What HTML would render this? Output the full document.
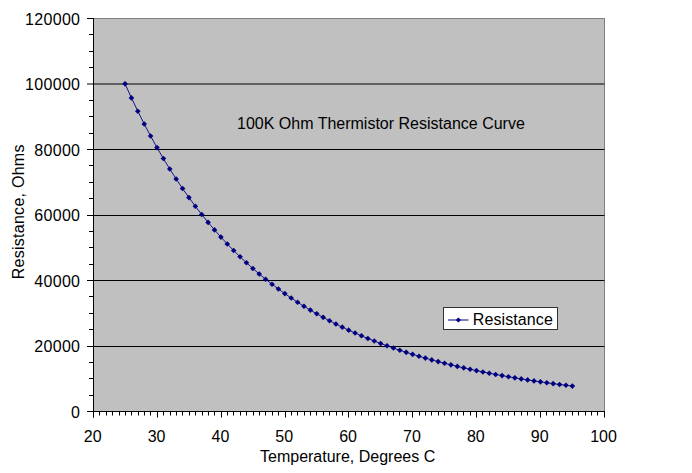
<!DOCTYPE html>
<html><head><meta charset="utf-8">
<style>
html,body{margin:0;padding:0;background:#fff;}
body{width:692px;height:473px;overflow:hidden;}
svg{display:block;font-family:"Liberation Sans", sans-serif;}
</style></head><body>
<svg width="692" height="473" viewBox="0 0 692 473">
<rect x="0" y="0" width="692" height="473" fill="#fff"/>
<rect x="93.5" y="18.5" width="511" height="393" fill="#c0c0c0" stroke="#808080" stroke-width="1"/>
<g stroke="#000" stroke-width="1"><line x1="93.5" y1="84.00" x2="604.5" y2="84.00"/><line x1="93.5" y1="149.50" x2="604.5" y2="149.50"/><line x1="93.5" y1="215.50" x2="604.5" y2="215.50"/><line x1="93.5" y1="280.50" x2="604.5" y2="280.50"/><line x1="93.5" y1="346.50" x2="604.5" y2="346.50"/></g>
<g stroke="#000" stroke-width="1">
<line x1="93.5" y1="18" x2="93.5" y2="417.5"/>
<line x1="87" y1="411.5" x2="605" y2="411.5"/>
<line x1="87" y1="411.50" x2="93.5" y2="411.50"/><line x1="89" y1="395.50" x2="93.5" y2="395.50"/><line x1="89" y1="378.50" x2="93.5" y2="378.50"/><line x1="89" y1="362.50" x2="93.5" y2="362.50"/><line x1="87" y1="346.50" x2="93.5" y2="346.50"/><line x1="89" y1="329.50" x2="93.5" y2="329.50"/><line x1="89" y1="313.50" x2="93.5" y2="313.50"/><line x1="89" y1="296.50" x2="93.5" y2="296.50"/><line x1="87" y1="280.50" x2="93.5" y2="280.50"/><line x1="89" y1="264.50" x2="93.5" y2="264.50"/><line x1="89" y1="247.50" x2="93.5" y2="247.50"/><line x1="89" y1="231.50" x2="93.5" y2="231.50"/><line x1="87" y1="215.50" x2="93.5" y2="215.50"/><line x1="89" y1="198.50" x2="93.5" y2="198.50"/><line x1="89" y1="182.50" x2="93.5" y2="182.50"/><line x1="89" y1="165.50" x2="93.5" y2="165.50"/><line x1="87" y1="149.50" x2="93.5" y2="149.50"/><line x1="89" y1="133.50" x2="93.5" y2="133.50"/><line x1="89" y1="116.50" x2="93.5" y2="116.50"/><line x1="89" y1="100.50" x2="93.5" y2="100.50"/><line x1="87" y1="84.00" x2="93.5" y2="84.00"/><line x1="89" y1="67.50" x2="93.5" y2="67.50"/><line x1="89" y1="51.50" x2="93.5" y2="51.50"/><line x1="89" y1="34.50" x2="93.5" y2="34.50"/><line x1="87" y1="18.50" x2="93.5" y2="18.50"/><line x1="93.50" y1="411.5" x2="93.50" y2="417.50"/><line x1="99.50" y1="411.5" x2="99.50" y2="415.50"/><line x1="106.50" y1="411.5" x2="106.50" y2="415.50"/><line x1="112.50" y1="411.5" x2="112.50" y2="415.50"/><line x1="119.50" y1="411.5" x2="119.50" y2="415.50"/><line x1="125.50" y1="411.5" x2="125.50" y2="415.50"/><line x1="131.50" y1="411.5" x2="131.50" y2="415.50"/><line x1="138.50" y1="411.5" x2="138.50" y2="415.50"/><line x1="144.50" y1="411.5" x2="144.50" y2="415.50"/><line x1="150.50" y1="411.5" x2="150.50" y2="415.50"/><line x1="157.50" y1="411.5" x2="157.50" y2="417.50"/><line x1="163.50" y1="411.5" x2="163.50" y2="415.50"/><line x1="170.50" y1="411.5" x2="170.50" y2="415.50"/><line x1="176.50" y1="411.5" x2="176.50" y2="415.50"/><line x1="182.50" y1="411.5" x2="182.50" y2="415.50"/><line x1="189.50" y1="411.5" x2="189.50" y2="415.50"/><line x1="195.50" y1="411.5" x2="195.50" y2="415.50"/><line x1="202.50" y1="411.5" x2="202.50" y2="415.50"/><line x1="208.50" y1="411.5" x2="208.50" y2="415.50"/><line x1="214.50" y1="411.5" x2="214.50" y2="415.50"/><line x1="221.50" y1="411.5" x2="221.50" y2="417.50"/><line x1="227.50" y1="411.5" x2="227.50" y2="415.50"/><line x1="233.50" y1="411.5" x2="233.50" y2="415.50"/><line x1="240.50" y1="411.5" x2="240.50" y2="415.50"/><line x1="246.50" y1="411.5" x2="246.50" y2="415.50"/><line x1="253.50" y1="411.5" x2="253.50" y2="415.50"/><line x1="259.50" y1="411.5" x2="259.50" y2="415.50"/><line x1="265.50" y1="411.5" x2="265.50" y2="415.50"/><line x1="272.50" y1="411.5" x2="272.50" y2="415.50"/><line x1="278.50" y1="411.5" x2="278.50" y2="415.50"/><line x1="285.50" y1="411.5" x2="285.50" y2="417.50"/><line x1="291.50" y1="411.5" x2="291.50" y2="415.50"/><line x1="297.50" y1="411.5" x2="297.50" y2="415.50"/><line x1="304.50" y1="411.5" x2="304.50" y2="415.50"/><line x1="310.50" y1="411.5" x2="310.50" y2="415.50"/><line x1="316.50" y1="411.5" x2="316.50" y2="415.50"/><line x1="323.50" y1="411.5" x2="323.50" y2="415.50"/><line x1="329.50" y1="411.5" x2="329.50" y2="415.50"/><line x1="336.50" y1="411.5" x2="336.50" y2="415.50"/><line x1="342.50" y1="411.5" x2="342.50" y2="415.50"/><line x1="348.50" y1="411.5" x2="348.50" y2="417.50"/><line x1="355.50" y1="411.5" x2="355.50" y2="415.50"/><line x1="361.50" y1="411.5" x2="361.50" y2="415.50"/><line x1="368.50" y1="411.5" x2="368.50" y2="415.50"/><line x1="374.50" y1="411.5" x2="374.50" y2="415.50"/><line x1="380.50" y1="411.5" x2="380.50" y2="415.50"/><line x1="387.50" y1="411.5" x2="387.50" y2="415.50"/><line x1="393.50" y1="411.5" x2="393.50" y2="415.50"/><line x1="399.50" y1="411.5" x2="399.50" y2="415.50"/><line x1="406.50" y1="411.5" x2="406.50" y2="415.50"/><line x1="412.50" y1="411.5" x2="412.50" y2="417.50"/><line x1="419.50" y1="411.5" x2="419.50" y2="415.50"/><line x1="425.50" y1="411.5" x2="425.50" y2="415.50"/><line x1="431.50" y1="411.5" x2="431.50" y2="415.50"/><line x1="438.50" y1="411.5" x2="438.50" y2="415.50"/><line x1="444.50" y1="411.5" x2="444.50" y2="415.50"/><line x1="451.50" y1="411.5" x2="451.50" y2="415.50"/><line x1="457.50" y1="411.5" x2="457.50" y2="415.50"/><line x1="463.50" y1="411.5" x2="463.50" y2="415.50"/><line x1="470.50" y1="411.5" x2="470.50" y2="415.50"/><line x1="476.50" y1="411.5" x2="476.50" y2="417.50"/><line x1="482.50" y1="411.5" x2="482.50" y2="415.50"/><line x1="489.50" y1="411.5" x2="489.50" y2="415.50"/><line x1="495.50" y1="411.5" x2="495.50" y2="415.50"/><line x1="502.50" y1="411.5" x2="502.50" y2="415.50"/><line x1="508.50" y1="411.5" x2="508.50" y2="415.50"/><line x1="514.50" y1="411.5" x2="514.50" y2="415.50"/><line x1="521.50" y1="411.5" x2="521.50" y2="415.50"/><line x1="527.50" y1="411.5" x2="527.50" y2="415.50"/><line x1="534.50" y1="411.5" x2="534.50" y2="415.50"/><line x1="540.50" y1="411.5" x2="540.50" y2="417.50"/><line x1="546.50" y1="411.5" x2="546.50" y2="415.50"/><line x1="553.50" y1="411.5" x2="553.50" y2="415.50"/><line x1="559.50" y1="411.5" x2="559.50" y2="415.50"/><line x1="565.50" y1="411.5" x2="565.50" y2="415.50"/><line x1="572.50" y1="411.5" x2="572.50" y2="415.50"/><line x1="578.50" y1="411.5" x2="578.50" y2="415.50"/><line x1="585.50" y1="411.5" x2="585.50" y2="415.50"/><line x1="591.50" y1="411.5" x2="591.50" y2="415.50"/><line x1="597.50" y1="411.5" x2="597.50" y2="415.50"/><line x1="604.50" y1="411.5" x2="604.50" y2="417.50"/>
</g>
<g font-size="16" fill="#000"><text x="80.3" y="418.00" text-anchor="end" letter-spacing="0.3">0</text><text x="80.3" y="352.43" text-anchor="end" letter-spacing="0.3">20000</text><text x="80.3" y="286.87" text-anchor="end" letter-spacing="0.3">40000</text><text x="80.3" y="221.30" text-anchor="end" letter-spacing="0.3">60000</text><text x="80.3" y="155.73" text-anchor="end" letter-spacing="0.3">80000</text><text x="80.3" y="90.17" text-anchor="end" letter-spacing="0.3">100000</text><text x="80.3" y="24.60" text-anchor="end" letter-spacing="0.3">120000</text><text x="92.70" y="442" text-anchor="middle">20</text><text x="156.55" y="442" text-anchor="middle">30</text><text x="220.40" y="442" text-anchor="middle">40</text><text x="284.25" y="442" text-anchor="middle">50</text><text x="348.10" y="442" text-anchor="middle">60</text><text x="411.95" y="442" text-anchor="middle">70</text><text x="475.80" y="442" text-anchor="middle">80</text><text x="539.65" y="442" text-anchor="middle">90</text><text x="603.50" y="442" text-anchor="middle">100</text></g>
<polyline points="125.05,83.87 131.44,97.90 137.83,111.25 144.22,123.96 150.61,136.06 157.00,147.59 163.39,158.57 169.78,169.03 176.17,179.01 182.56,188.52 188.95,197.59 195.34,206.24 201.73,214.50 208.12,222.38 214.51,229.90 220.90,237.09 227.29,243.95 233.68,250.51 240.07,256.77 246.46,262.76 252.85,268.49 259.24,273.97 265.63,279.21 272.02,284.22 278.41,289.02 284.80,293.61 291.19,298.01 297.58,302.22 303.97,306.25 310.36,310.11 316.75,313.82 323.14,317.37 329.53,320.77 335.92,324.03 342.31,327.16 348.70,330.17 355.09,333.05 361.48,335.81 367.87,338.47 374.26,341.02 380.65,343.46 387.04,345.82 393.43,348.07 399.82,350.24 406.21,352.33 412.60,354.34 418.99,356.26 425.38,358.12 431.77,359.90 438.16,361.62 444.55,363.27 450.94,364.85 457.33,366.38 463.72,367.86 470.11,369.27 476.50,370.64 482.89,371.95 489.28,373.22 495.67,374.44 502.06,375.62 508.45,376.75 514.84,377.84 521.23,378.90 527.62,379.91 534.01,380.89 540.40,381.84 546.79,382.75 553.18,383.63 559.57,384.48 565.96,385.30 572.35,386.09" fill="none" stroke="#000080" stroke-width="0.9"/>
<g fill="#000080"><path d="M125.05 81.07L127.85 83.87L125.05 86.67L122.25 83.87Z"/><path d="M131.44 95.10L134.24 97.90L131.44 100.70L128.64 97.90Z"/><path d="M137.83 108.45L140.63 111.25L137.83 114.05L135.03 111.25Z"/><path d="M144.22 121.16L147.02 123.96L144.22 126.76L141.42 123.96Z"/><path d="M150.61 133.26L153.41 136.06L150.61 138.86L147.81 136.06Z"/><path d="M157.00 144.79L159.80 147.59L157.00 150.39L154.20 147.59Z"/><path d="M163.39 155.77L166.19 158.57L163.39 161.37L160.59 158.57Z"/><path d="M169.78 166.23L172.58 169.03L169.78 171.83L166.98 169.03Z"/><path d="M176.17 176.21L178.97 179.01L176.17 181.81L173.37 179.01Z"/><path d="M182.56 185.72L185.36 188.52L182.56 191.32L179.76 188.52Z"/><path d="M188.95 194.79L191.75 197.59L188.95 200.39L186.15 197.59Z"/><path d="M195.34 203.44L198.14 206.24L195.34 209.04L192.54 206.24Z"/><path d="M201.73 211.70L204.53 214.50L201.73 217.30L198.93 214.50Z"/><path d="M208.12 219.58L210.92 222.38L208.12 225.18L205.32 222.38Z"/><path d="M214.51 227.10L217.31 229.90L214.51 232.70L211.71 229.90Z"/><path d="M220.90 234.29L223.70 237.09L220.90 239.89L218.10 237.09Z"/><path d="M227.29 241.15L230.09 243.95L227.29 246.75L224.49 243.95Z"/><path d="M233.68 247.71L236.48 250.51L233.68 253.31L230.88 250.51Z"/><path d="M240.07 253.97L242.87 256.77L240.07 259.57L237.27 256.77Z"/><path d="M246.46 259.96L249.26 262.76L246.46 265.56L243.66 262.76Z"/><path d="M252.85 265.69L255.65 268.49L252.85 271.29L250.05 268.49Z"/><path d="M259.24 271.17L262.04 273.97L259.24 276.77L256.44 273.97Z"/><path d="M265.63 276.41L268.43 279.21L265.63 282.01L262.83 279.21Z"/><path d="M272.02 281.42L274.82 284.22L272.02 287.02L269.22 284.22Z"/><path d="M278.41 286.22L281.21 289.02L278.41 291.82L275.61 289.02Z"/><path d="M284.80 290.81L287.60 293.61L284.80 296.41L282.00 293.61Z"/><path d="M291.19 295.21L293.99 298.01L291.19 300.81L288.39 298.01Z"/><path d="M297.58 299.42L300.38 302.22L297.58 305.02L294.78 302.22Z"/><path d="M303.97 303.45L306.77 306.25L303.97 309.05L301.17 306.25Z"/><path d="M310.36 307.31L313.16 310.11L310.36 312.91L307.56 310.11Z"/><path d="M316.75 311.02L319.55 313.82L316.75 316.62L313.95 313.82Z"/><path d="M323.14 314.57L325.94 317.37L323.14 320.17L320.34 317.37Z"/><path d="M329.53 317.97L332.33 320.77L329.53 323.57L326.73 320.77Z"/><path d="M335.92 321.23L338.72 324.03L335.92 326.83L333.12 324.03Z"/><path d="M342.31 324.36L345.11 327.16L342.31 329.96L339.51 327.16Z"/><path d="M348.70 327.37L351.50 330.17L348.70 332.97L345.90 330.17Z"/><path d="M355.09 330.25L357.89 333.05L355.09 335.85L352.29 333.05Z"/><path d="M361.48 333.01L364.28 335.81L361.48 338.61L358.68 335.81Z"/><path d="M367.87 335.67L370.67 338.47L367.87 341.27L365.07 338.47Z"/><path d="M374.26 338.22L377.06 341.02L374.26 343.82L371.46 341.02Z"/><path d="M380.65 340.66L383.45 343.46L380.65 346.26L377.85 343.46Z"/><path d="M387.04 343.02L389.84 345.82L387.04 348.62L384.24 345.82Z"/><path d="M393.43 345.27L396.23 348.07L393.43 350.87L390.63 348.07Z"/><path d="M399.82 347.44L402.62 350.24L399.82 353.04L397.02 350.24Z"/><path d="M406.21 349.53L409.01 352.33L406.21 355.13L403.41 352.33Z"/><path d="M412.60 351.54L415.40 354.34L412.60 357.14L409.80 354.34Z"/><path d="M418.99 353.46L421.79 356.26L418.99 359.06L416.19 356.26Z"/><path d="M425.38 355.32L428.18 358.12L425.38 360.92L422.58 358.12Z"/><path d="M431.77 357.10L434.57 359.90L431.77 362.70L428.97 359.90Z"/><path d="M438.16 358.82L440.96 361.62L438.16 364.42L435.36 361.62Z"/><path d="M444.55 360.47L447.35 363.27L444.55 366.07L441.75 363.27Z"/><path d="M450.94 362.05L453.74 364.85L450.94 367.65L448.14 364.85Z"/><path d="M457.33 363.58L460.13 366.38L457.33 369.18L454.53 366.38Z"/><path d="M463.72 365.06L466.52 367.86L463.72 370.66L460.92 367.86Z"/><path d="M470.11 366.47L472.91 369.27L470.11 372.07L467.31 369.27Z"/><path d="M476.50 367.84L479.30 370.64L476.50 373.44L473.70 370.64Z"/><path d="M482.89 369.15L485.69 371.95L482.89 374.75L480.09 371.95Z"/><path d="M489.28 370.42L492.08 373.22L489.28 376.02L486.48 373.22Z"/><path d="M495.67 371.64L498.47 374.44L495.67 377.24L492.87 374.44Z"/><path d="M502.06 372.82L504.86 375.62L502.06 378.42L499.26 375.62Z"/><path d="M508.45 373.95L511.25 376.75L508.45 379.55L505.65 376.75Z"/><path d="M514.84 375.04L517.64 377.84L514.84 380.64L512.04 377.84Z"/><path d="M521.23 376.10L524.03 378.90L521.23 381.70L518.43 378.90Z"/><path d="M527.62 377.11L530.42 379.91L527.62 382.71L524.82 379.91Z"/><path d="M534.01 378.09L536.81 380.89L534.01 383.69L531.21 380.89Z"/><path d="M540.40 379.04L543.20 381.84L540.40 384.64L537.60 381.84Z"/><path d="M546.79 379.95L549.59 382.75L546.79 385.55L543.99 382.75Z"/><path d="M553.18 380.83L555.98 383.63L553.18 386.43L550.38 383.63Z"/><path d="M559.57 381.68L562.37 384.48L559.57 387.28L556.77 384.48Z"/><path d="M565.96 382.50L568.76 385.30L565.96 388.10L563.16 385.30Z"/><path d="M572.35 383.29L575.15 386.09L572.35 388.89L569.55 386.09Z"/></g>
<text x="237" y="128.5" font-size="16" fill="#000">100K Ohm Thermistor Resistance Curve</text>
<text x="260" y="462" font-size="16" fill="#000">Temperature, Degrees C</text>
<text transform="translate(23.7 279.3) rotate(-90)" font-size="16" letter-spacing="0.27" fill="#000">Resistance, Ohms</text>
<rect x="443.5" y="307.5" width="114" height="22" fill="#fff" stroke="#333" stroke-width="1"/>
<line x1="448" y1="320" x2="468.5" y2="320" stroke="#000080" stroke-width="1"/>
<path d="M458.4 317.5L461 320L458.4 322.5L455.8 320Z" fill="#000080"/>
<text x="472.8" y="325.3" font-size="16" letter-spacing="0.1" fill="#000">Resistance</text>
</svg>
</body></html>
